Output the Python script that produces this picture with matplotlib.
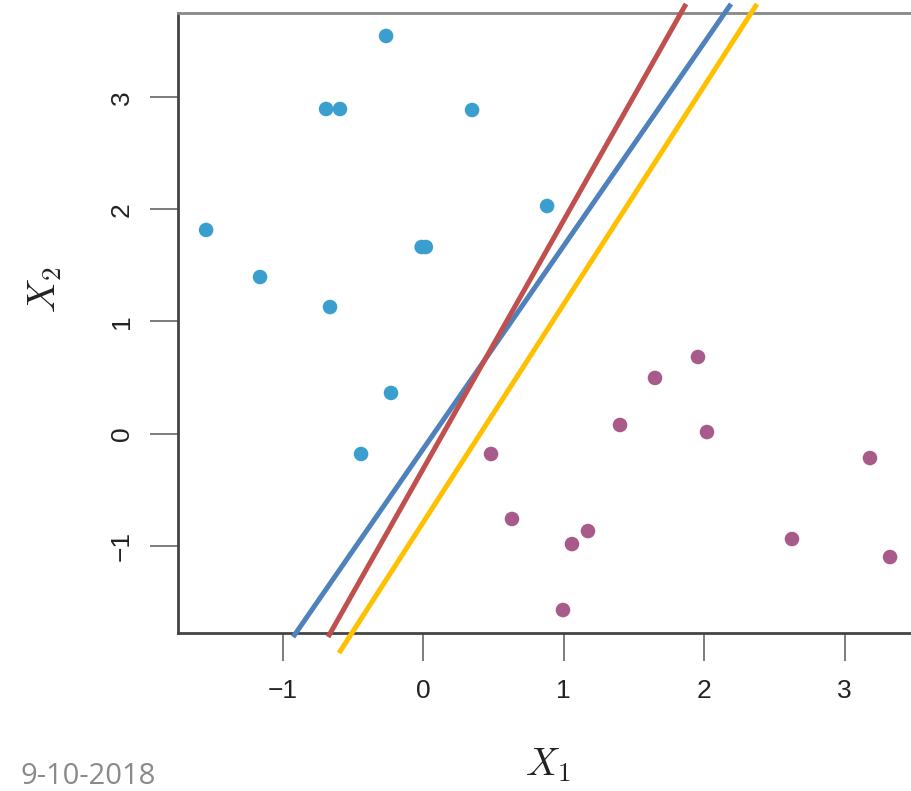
import matplotlib
matplotlib.use("Agg")
import matplotlib.pyplot as plt

plt.rcParams["font.family"] = ["Liberation Sans", "DejaVu Sans"]
plt.rcParams["mathtext.fontset"] = "cm"

# class 1 (blue) and class 2 (purple) observations
blue_x = [-0.263, -0.690, -0.591, 0.349, 0.883, -1.544, -0.010, 0.020, -1.160, -0.662, -0.228, -0.441]
blue_y = [3.549, 2.897, 2.897, 2.888, 2.031, 1.817, 1.665, 1.665, 1.397, 1.129, 0.362, -0.183]
purple_x = [1.957, 1.651, 1.402, 2.021, 0.484, 3.181, 0.633, 1.174, 1.060, 2.626, 3.324, 0.996]
purple_y = [0.683, 0.496, 0.076, 0.013, -0.183, -0.219, -0.763, -0.871, -0.987, -0.942, -1.103, -1.576]

# separating hyperplanes, given by their two end points
red_line_x = [-0.676, 1.872]
red_line_y = [-1.817, 3.835]
blue_line_x = [-0.925, 2.192]
blue_line_y = [-1.817, 3.835]
yellow_line_x = [-0.598, 2.377]
yellow_line_y = [-1.960, 3.835]

xticks = [-1, 0, 1, 2, 3]
yticks = [-1, 0, 1, 2, 3]

fig = plt.figure(figsize=(9.11, 7.91), dpi=100)
ax = fig.add_axes([178 / 911, 1 - 633 / 791, 1 - 178 / 911, (633 - 13) / 791])

ax.scatter(blue_x, blue_y, s=110, color="#3a9fcf", edgecolors="none", zorder=3)
ax.scatter(purple_x, purple_y, s=110, color="#a85a8a", edgecolors="none", zorder=3)

ax.plot(blue_line_x, blue_line_y, color="#4f81bd", lw=3.6, clip_on=False, zorder=4, solid_capstyle="butt")
ax.plot(red_line_x, red_line_y, color="#c0504d", lw=3.6, clip_on=False, zorder=4, solid_capstyle="butt")
ax.plot(yellow_line_x, yellow_line_y, color="#ffc000", lw=3.6, clip_on=False, zorder=4, solid_capstyle="butt")

ax.set_xlim(-1.744, 3.473)
ax.set_ylim(-1.781, 3.754)
ax.set_xticks(xticks)
ax.set_yticks(yticks)
ax.set_xticklabels(["\u22121", "0", "1", "2", "3"])
ax.set_yticklabels(["\u22121", "0", "1", "2", "3"], rotation=90, va="center")
ax.tick_params(length=20, width=1.2, color="#666666", labelsize=19, labelcolor="#222222")
ax.tick_params(axis="x", pad=13)
ax.tick_params(axis="y", pad=12)

ax.spines["right"].set_visible(False)
ax.spines["left"].set_color("#444444")
ax.spines["bottom"].set_color("#444444")
ax.spines["top"].set_color("#888888")
for s in ["left", "bottom", "top"]:
    ax.spines[s].set_linewidth(2)

fig.text(548 / 911, 1 - 765 / 791, r"$X_1$", fontsize=28, ha="center", va="center", color="#222222")
fig.text(45 / 911, 1 - 290 / 791, r"$X_2$", fontsize=28, ha="center", va="center", rotation=90, color="#222222")
fig.text(20 / 911, 1 - 777 / 791, "9-10-2018", fontsize=21, color="#8a8a8a", family="Open Sans", va="center")

fig.savefig("out.png", dpi=100)
